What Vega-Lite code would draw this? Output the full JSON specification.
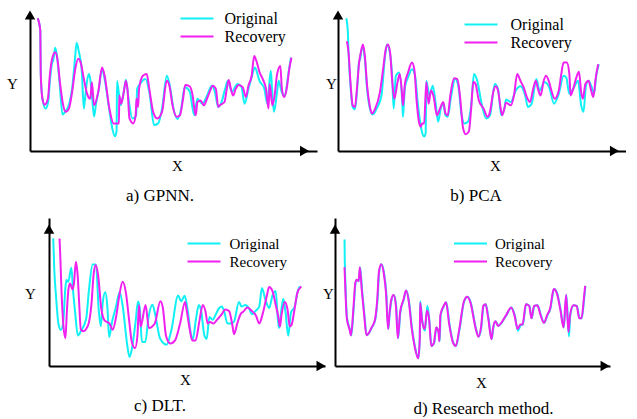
{
"$schema": "https://vega.github.io/schema/vega-lite/v6.json",
"autosize": {"type": "pad"},
"padding": {"left": 6, "top": 9, "right": 0, "bottom": 0},
"background": "white",
"config": {
  "view": {"stroke": null},
  "font": "Liberation Serif",
  "axis": {"labels": false, "ticks": false, "grid": false, "domain": true, "domainColor": "black", "domainWidth": 2, "titleFont": "Liberation Serif", "titleFontSize": 15, "titleFontWeight": "normal", "titleColor": "black", "titleAngle": 0, "titleAlign": "center", "titleBaseline": "alphabetic"},
  "legend": {"orient": "none", "title": null, "symbolType": "M-2,0L2,0", "symbolSize": 272, "symbolStrokeWidth": 2, "labelFont": "Liberation Serif", "labelFontSize": 16, "labelColor": "black", "rowPadding": -1, "padding": 0},
  "title": {"font": "Liberation Serif", "fontSize": 17, "fontWeight": "normal", "color": "black", "orient": "bottom", "anchor": "middle", "offset": 10},
  "line": {"strokeWidth": 2, "interpolate": "monotone"},
  "point": {"filled": true, "color": "black", "opacity": 1, "size": 110}
},
"datasets": {
"a": [
{"s":"Original","x":8,"y":134.7},{"s":"Original","x":10.7,"y":123},{"s":"Original","x":11.3,"y":76.3},{"s":"Original","x":13,"y":53},{"s":"Original","x":16.3,"y":43},{"s":"Original","x":19,"y":50},{"s":"Original","x":21,"y":73},{"s":"Original","x":23,"y":89},{"s":"Original","x":24,"y":91.3},{"s":"Original","x":25,"y":96},{"s":"Original","x":26.3,"y":104.7},{"s":"Original","x":28,"y":98},{"s":"Original","x":31,"y":68},{"s":"Original","x":34,"y":37},{"s":"Original","x":37,"y":40},{"s":"Original","x":41,"y":48},{"s":"Original","x":44,"y":63},{"s":"Original","x":47,"y":93},{"s":"Original","x":48.7,"y":109.7},{"s":"Original","x":51,"y":101},{"s":"Original","x":54,"y":83},{"s":"Original","x":56.3,"y":43},{"s":"Original","x":58,"y":58},{"s":"Original","x":61.3,"y":78},{"s":"Original","x":63,"y":73},{"s":"Original","x":65,"y":53},{"s":"Original","x":67,"y":35},{"s":"Original","x":69,"y":48},{"s":"Original","x":72,"y":63},{"s":"Original","x":75.3,"y":83},{"s":"Original","x":78,"y":73},{"s":"Original","x":83,"y":41},{"s":"Original","x":86,"y":23},{"s":"Original","x":88.7,"y":15},{"s":"Original","x":90.5,"y":20},{"s":"Original","x":91,"y":71},{"s":"Original","x":94.7,"y":46.3},{"s":"Original","x":98,"y":60},{"s":"Original","x":100.3,"y":72.3},{"s":"Original","x":103,"y":53},{"s":"Original","x":107,"y":33},{"s":"Original","x":111,"y":36},{"s":"Original","x":112,"y":63},{"s":"Original","x":115,"y":68},{"s":"Original","x":120.7,"y":73},{"s":"Original","x":125,"y":58},{"s":"Original","x":129.7,"y":26.3},{"s":"Original","x":134,"y":28},{"s":"Original","x":138,"y":43},{"s":"Original","x":143,"y":76.3},{"s":"Original","x":146,"y":67},{"s":"Original","x":150,"y":43},{"s":"Original","x":154.3,"y":32.3},{"s":"Original","x":158,"y":43},{"s":"Original","x":161.7,"y":64.7},{"s":"Original","x":166.7,"y":61},{"s":"Original","x":171.7,"y":36.3},{"s":"Original","x":175,"y":53},{"s":"Original","x":180,"y":48},{"s":"Original","x":185,"y":56},{"s":"Original","x":190,"y":66.3},{"s":"Original","x":193,"y":61},{"s":"Original","x":196.7,"y":44.7},{"s":"Original","x":200,"y":49},{"s":"Original","x":204,"y":63},{"s":"Original","x":206.7,"y":71.3},{"s":"Original","x":211,"y":60},{"s":"Original","x":216.7,"y":68},{"s":"Original","x":221,"y":65},{"s":"Original","x":224.3,"y":48},{"s":"Original","x":228.3,"y":63},{"s":"Original","x":232,"y":76},{"s":"Original","x":235,"y":84.7},{"s":"Original","x":240,"y":71},{"s":"Original","x":245,"y":63},{"s":"Original","x":248,"y":48},{"s":"Original","x":251.7,"y":81.3},{"s":"Original","x":253,"y":63},{"s":"Original","x":255,"y":39.7},{"s":"Original","x":258,"y":58},{"s":"Original","x":260,"y":71.3},{"s":"Original","x":263,"y":60},{"s":"Original","x":266.3,"y":56},{"s":"Original","x":270,"y":78},{"s":"Original","x":272.7,"y":94.7},
{"s":"Recovery","x":8,"y":134.7},{"s":"Recovery","x":10.7,"y":123},{"s":"Recovery","x":11.3,"y":76.3},{"s":"Recovery","x":13,"y":53},{"s":"Recovery","x":15.3,"y":47},{"s":"Recovery","x":18.7,"y":53},{"s":"Recovery","x":20.7,"y":76.3},{"s":"Recovery","x":23,"y":93},{"s":"Recovery","x":26.3,"y":100.3},{"s":"Recovery","x":28.7,"y":93},{"s":"Recovery","x":31.3,"y":69.7},{"s":"Recovery","x":34.7,"y":46.3},{"s":"Recovery","x":37.3,"y":39.7},{"s":"Recovery","x":40.7,"y":43},{"s":"Recovery","x":44,"y":59.7},{"s":"Recovery","x":47.3,"y":83},{"s":"Recovery","x":50.3,"y":93.7},{"s":"Recovery","x":53,"y":89.7},{"s":"Recovery","x":56.3,"y":73},{"s":"Recovery","x":59.7,"y":58},{"s":"Recovery","x":63,"y":53},{"s":"Recovery","x":64.7,"y":69.7},{"s":"Recovery","x":67,"y":46.3},{"s":"Recovery","x":71.3,"y":59.7},{"s":"Recovery","x":75.3,"y":84.7},{"s":"Recovery","x":78,"y":76.3},{"s":"Recovery","x":83,"y":43},{"s":"Recovery","x":87.3,"y":28},{"s":"Recovery","x":93,"y":28},{"s":"Recovery","x":93.3,"y":56.3},{"s":"Recovery","x":95.3,"y":48},{"s":"Recovery","x":98,"y":59.7},{"s":"Recovery","x":100.3,"y":71.3},{"s":"Recovery","x":102,"y":61.3},{"s":"Recovery","x":104,"y":33},{"s":"Recovery","x":108,"y":28},{"s":"Recovery","x":110.5,"y":36.3},{"s":"Recovery","x":111.3,"y":53},{"s":"Recovery","x":113,"y":44.7},{"s":"Recovery","x":114,"y":63},{"s":"Recovery","x":118,"y":76.3},{"s":"Recovery","x":122,"y":78},{"s":"Recovery","x":124.7,"y":63},{"s":"Recovery","x":128.7,"y":39.7},{"s":"Recovery","x":133,"y":33},{"s":"Recovery","x":138,"y":39.7},{"s":"Recovery","x":143,"y":71.3},{"s":"Recovery","x":145.7,"y":66.3},{"s":"Recovery","x":149,"y":46.3},{"s":"Recovery","x":153.3,"y":34.7},{"s":"Recovery","x":156.7,"y":36.3},{"s":"Recovery","x":160,"y":53},{"s":"Recovery","x":162.3,"y":67},{"s":"Recovery","x":166.7,"y":65.7},{"s":"Recovery","x":170,"y":56.3},{"s":"Recovery","x":171.7,"y":43},{"s":"Recovery","x":173.3,"y":36.3},{"s":"Recovery","x":175,"y":49.7},{"s":"Recovery","x":178.3,"y":51.3},{"s":"Recovery","x":181.7,"y":46.3},{"s":"Recovery","x":185,"y":53},{"s":"Recovery","x":188.3,"y":61.3},{"s":"Recovery","x":191,"y":66.3},{"s":"Recovery","x":194.3,"y":63},{"s":"Recovery","x":196.7,"y":44.7},{"s":"Recovery","x":198.3,"y":46.3},{"s":"Recovery","x":203.3,"y":49.7},{"s":"Recovery","x":205.7,"y":63},{"s":"Recovery","x":207.7,"y":72},{"s":"Recovery","x":210,"y":63},{"s":"Recovery","x":212.3,"y":56.3},{"s":"Recovery","x":215,"y":63},{"s":"Recovery","x":218.3,"y":67},{"s":"Recovery","x":222.3,"y":64.7},{"s":"Recovery","x":225.7,"y":54.7},{"s":"Recovery","x":228.3,"y":66.3},{"s":"Recovery","x":231.7,"y":76.3},{"s":"Recovery","x":234.3,"y":96.3},{"s":"Recovery","x":236.7,"y":91.3},{"s":"Recovery","x":240,"y":79.7},{"s":"Recovery","x":243.3,"y":73},{"s":"Recovery","x":246.7,"y":63},{"s":"Recovery","x":249.3,"y":43},{"s":"Recovery","x":250.5,"y":68},{"s":"Recovery","x":253.3,"y":46.3},{"s":"Recovery","x":255.7,"y":56.3},{"s":"Recovery","x":258.3,"y":78},{"s":"Recovery","x":261.7,"y":86.3},{"s":"Recovery","x":263.3,"y":63},{"s":"Recovery","x":265.7,"y":54.7},{"s":"Recovery","x":268.3,"y":63},{"s":"Recovery","x":271,"y":83},{"s":"Recovery","x":273.3,"y":94.7}
],
"b": [
{"s":"Original","x":8.7,"y":134.7},{"s":"Original","x":10.3,"y":119.7},{"s":"Original","x":11,"y":99.7},{"s":"Original","x":13,"y":66.3},{"s":"Original","x":15.3,"y":44.7},{"s":"Original","x":17.7,"y":42.3},{"s":"Original","x":19.7,"y":59.7},{"s":"Original","x":22,"y":91.3},{"s":"Original","x":23,"y":93},{"s":"Original","x":24.3,"y":101.3},{"s":"Original","x":26,"y":106.3},{"s":"Original","x":28,"y":93},{"s":"Original","x":30.3,"y":63},{"s":"Original","x":33.7,"y":41.3},{"s":"Original","x":36.3,"y":37},{"s":"Original","x":40.3,"y":43},{"s":"Original","x":45.3,"y":56.3},{"s":"Original","x":48.7,"y":93},{"s":"Original","x":51,"y":108},{"s":"Original","x":53.7,"y":101.3},{"s":"Original","x":56.3,"y":78},{"s":"Original","x":58,"y":43},{"s":"Original","x":60.3,"y":76.3},{"s":"Original","x":63.7,"y":79.7},{"s":"Original","x":67,"y":48},{"s":"Original","x":67.7,"y":34.7},{"s":"Original","x":69.7,"y":64.7},{"s":"Original","x":73,"y":74.7},{"s":"Original","x":77,"y":83},{"s":"Original","x":80.3,"y":76.3},{"s":"Original","x":83,"y":49.7},{"s":"Original","x":87,"y":21.3},{"s":"Original","x":89.7,"y":14.7},{"s":"Original","x":91.3,"y":18},{"s":"Original","x":92,"y":71.3},{"s":"Original","x":95.3,"y":56.3},{"s":"Original","x":98.7,"y":66.3},{"s":"Original","x":102,"y":46.3},{"s":"Original","x":104.3,"y":29.7},{"s":"Original","x":107,"y":43},{"s":"Original","x":109.7,"y":48},{"s":"Original","x":112,"y":36.3},{"s":"Original","x":114.3,"y":34.7},{"s":"Original","x":117.7,"y":54.7},{"s":"Original","x":122,"y":73},{"s":"Original","x":125.3,"y":66.3},{"s":"Original","x":128.7,"y":36.3},{"s":"Original","x":132,"y":28},{"s":"Original","x":135.3,"y":29.7},{"s":"Original","x":138.7,"y":46.3},{"s":"Original","x":141.7,"y":78},{"s":"Original","x":145,"y":71.3},{"s":"Original","x":150,"y":46.3},{"s":"Original","x":154.3,"y":33},{"s":"Original","x":158.3,"y":36.3},{"s":"Original","x":163.3,"y":68},{"s":"Original","x":166.7,"y":63},{"s":"Original","x":170,"y":36.3},{"s":"Original","x":173.3,"y":43},{"s":"Original","x":175,"y":52.3},{"s":"Original","x":180,"y":49.7},{"s":"Original","x":185,"y":61},{"s":"Original","x":190,"y":65.7},{"s":"Original","x":195,"y":56.3},{"s":"Original","x":197.7,"y":44.7},{"s":"Original","x":201.7,"y":48},{"s":"Original","x":206.7,"y":73},{"s":"Original","x":210,"y":61.3},{"s":"Original","x":215,"y":69.7},{"s":"Original","x":220,"y":64.7},{"s":"Original","x":225,"y":48},{"s":"Original","x":230,"y":58},{"s":"Original","x":235,"y":76.3},{"s":"Original","x":237.7,"y":74.7},{"s":"Original","x":241,"y":58},{"s":"Original","x":245,"y":63},{"s":"Original","x":250,"y":71.3},{"s":"Original","x":253.3,"y":46.3},{"s":"Original","x":255.7,"y":39.7},{"s":"Original","x":258.3,"y":66.3},{"s":"Original","x":261,"y":71.3},{"s":"Original","x":264.3,"y":64.7},{"s":"Original","x":266.7,"y":58},{"s":"Original","x":269,"y":76.3},{"s":"Original","x":271.7,"y":88},
{"s":"Recovery","x":9.3,"y":111.3},{"s":"Recovery","x":11,"y":99.7},{"s":"Recovery","x":13,"y":69.7},{"s":"Recovery","x":15.3,"y":46.3},{"s":"Recovery","x":17.7,"y":44.7},{"s":"Recovery","x":19.7,"y":63},{"s":"Recovery","x":22,"y":89.7},{"s":"Recovery","x":23.7,"y":99.7},{"s":"Recovery","x":26,"y":108},{"s":"Recovery","x":28,"y":96.3},{"s":"Recovery","x":30.3,"y":66.3},{"s":"Recovery","x":33,"y":46.3},{"s":"Recovery","x":35.3,"y":38},{"s":"Recovery","x":38.7,"y":43},{"s":"Recovery","x":43.7,"y":59.7},{"s":"Recovery","x":47,"y":83},{"s":"Recovery","x":49.7,"y":103},{"s":"Recovery","x":52,"y":108},{"s":"Recovery","x":54.3,"y":99.7},{"s":"Recovery","x":56.3,"y":73},{"s":"Recovery","x":58.7,"y":53},{"s":"Recovery","x":62,"y":69.7},{"s":"Recovery","x":64.3,"y":78},{"s":"Recovery","x":66.3,"y":63},{"s":"Recovery","x":67.7,"y":46.3},{"s":"Recovery","x":69.7,"y":68},{"s":"Recovery","x":73,"y":79.7},{"s":"Recovery","x":77,"y":89.7},{"s":"Recovery","x":79.7,"y":81.3},{"s":"Recovery","x":82,"y":49.7},{"s":"Recovery","x":84.3,"y":29.7},{"s":"Recovery","x":86.3,"y":24.7},{"s":"Recovery","x":87.7,"y":28},{"s":"Recovery","x":89.7,"y":28},{"s":"Recovery","x":92,"y":69.7},{"s":"Recovery","x":94.3,"y":48},{"s":"Recovery","x":97,"y":61.3},{"s":"Recovery","x":99.7,"y":54.7},{"s":"Recovery","x":103,"y":36.3},{"s":"Recovery","x":106.3,"y":43},{"s":"Recovery","x":109.7,"y":49.7},{"s":"Recovery","x":112,"y":38},{"s":"Recovery","x":114.3,"y":36.3},{"s":"Recovery","x":117,"y":56.3},{"s":"Recovery","x":121,"y":73.7},{"s":"Recovery","x":124.3,"y":73},{"s":"Recovery","x":127,"y":56.3},{"s":"Recovery","x":130.3,"y":23},{"s":"Recovery","x":133,"y":17},{"s":"Recovery","x":136.3,"y":19.7},{"s":"Recovery","x":138.7,"y":43},{"s":"Recovery","x":141,"y":70.3},{"s":"Recovery","x":143.3,"y":68},{"s":"Recovery","x":146.7,"y":51.3},{"s":"Recovery","x":151.7,"y":43},{"s":"Recovery","x":155.7,"y":34.7},{"s":"Recovery","x":158.3,"y":39.7},{"s":"Recovery","x":161.7,"y":59.7},{"s":"Recovery","x":164.3,"y":65.7},{"s":"Recovery","x":166.7,"y":61.3},{"s":"Recovery","x":169,"y":46.3},{"s":"Recovery","x":171,"y":36.3},{"s":"Recovery","x":173.3,"y":43},{"s":"Recovery","x":175,"y":49},{"s":"Recovery","x":180,"y":46.3},{"s":"Recovery","x":183.3,"y":56.3},{"s":"Recovery","x":186.7,"y":78},{"s":"Recovery","x":190,"y":71.3},{"s":"Recovery","x":193.3,"y":64.7},{"s":"Recovery","x":196.7,"y":54.7},{"s":"Recovery","x":200,"y":49.7},{"s":"Recovery","x":203.3,"y":63},{"s":"Recovery","x":206,"y":71.3},{"s":"Recovery","x":208.3,"y":63},{"s":"Recovery","x":211,"y":56.3},{"s":"Recovery","x":214.3,"y":71.3},{"s":"Recovery","x":216.7,"y":76.3},{"s":"Recovery","x":220,"y":69.7},{"s":"Recovery","x":222.3,"y":61.3},{"s":"Recovery","x":225.7,"y":53},{"s":"Recovery","x":230,"y":61.3},{"s":"Recovery","x":232.3,"y":76.3},{"s":"Recovery","x":235,"y":89.7},{"s":"Recovery","x":238.3,"y":89.7},{"s":"Recovery","x":241,"y":78},{"s":"Recovery","x":242.3,"y":56.3},{"s":"Recovery","x":245,"y":63},{"s":"Recovery","x":248.3,"y":74.7},{"s":"Recovery","x":251,"y":80.3},{"s":"Recovery","x":253.3,"y":59.7},{"s":"Recovery","x":255,"y":53},{"s":"Recovery","x":257.7,"y":68},{"s":"Recovery","x":261,"y":71.3},{"s":"Recovery","x":263.3,"y":63},{"s":"Recovery","x":266,"y":54.7},{"s":"Recovery","x":268.3,"y":73},{"s":"Recovery","x":271,"y":88}
],
"c": [
{"s":"Original","x":4.3,"y":138},{"s":"Original","x":5.3,"y":106},{"s":"Original","x":7.3,"y":73},{"s":"Original","x":9.5,"y":46},{"s":"Original","x":12,"y":39},{"s":"Original","x":14.5,"y":48},{"s":"Original","x":16.5,"y":83},{"s":"Original","x":17.7,"y":93},{"s":"Original","x":19.5,"y":91},{"s":"Original","x":22.7,"y":106.3},{"s":"Original","x":24.3,"y":83},{"s":"Original","x":26.5,"y":58},{"s":"Original","x":29.3,"y":33},{"s":"Original","x":32.5,"y":38},{"s":"Original","x":37.7,"y":51},{"s":"Original","x":40.3,"y":79.7},{"s":"Original","x":44.3,"y":109.7},{"s":"Original","x":47.7,"y":109.7},{"s":"Original","x":50.3,"y":63},{"s":"Original","x":52.5,"y":43},{"s":"Original","x":54.5,"y":68},{"s":"Original","x":57,"y":79.7},{"s":"Original","x":59.3,"y":63},{"s":"Original","x":61,"y":31.3},{"s":"Original","x":64,"y":48},{"s":"Original","x":67.7,"y":63},{"s":"Original","x":71.7,"y":79.7},{"s":"Original","x":75,"y":63},{"s":"Original","x":79.3,"y":23},{"s":"Original","x":81.7,"y":9.7},{"s":"Original","x":84,"y":18},{"s":"Original","x":87.7,"y":46.3},{"s":"Original","x":90.3,"y":69.7},{"s":"Original","x":92,"y":63},{"s":"Original","x":94.3,"y":26.3},{"s":"Original","x":97.7,"y":26},{"s":"Original","x":101,"y":53},{"s":"Original","x":105,"y":66.3},{"s":"Original","x":107.7,"y":56},{"s":"Original","x":112.7,"y":29.7},{"s":"Original","x":119.3,"y":23},{"s":"Original","x":124,"y":38},{"s":"Original","x":131,"y":76.3},{"s":"Original","x":134,"y":70},{"s":"Original","x":137.7,"y":76},{"s":"Original","x":141,"y":58},{"s":"Original","x":144.3,"y":32.7},{"s":"Original","x":146,"y":29.3},{"s":"Original","x":149,"y":50},{"s":"Original","x":152,"y":66},{"s":"Original","x":154.3,"y":60},{"s":"Original","x":157.7,"y":32.7},{"s":"Original","x":160,"y":29.3},{"s":"Original","x":162.7,"y":53},{"s":"Original","x":166,"y":50},{"s":"Original","x":169.3,"y":56},{"s":"Original","x":172.7,"y":62.7},{"s":"Original","x":175.3,"y":64.3},{"s":"Original","x":177.7,"y":59.3},{"s":"Original","x":181,"y":46},{"s":"Original","x":184.3,"y":46},{"s":"Original","x":187.7,"y":48},{"s":"Original","x":192.7,"y":69.3},{"s":"Original","x":195.3,"y":64.3},{"s":"Original","x":199.3,"y":66},{"s":"Original","x":202.7,"y":62.7},{"s":"Original","x":206,"y":56},{"s":"Original","x":209.3,"y":59.3},{"s":"Original","x":213.3,"y":64.3},{"s":"Original","x":216,"y":84.3},{"s":"Original","x":219.3,"y":72.7},{"s":"Original","x":223.3,"y":62.7},{"s":"Original","x":226.7,"y":76},{"s":"Original","x":230,"y":81},{"s":"Original","x":232,"y":53},{"s":"Original","x":233.3,"y":41},{"s":"Original","x":236,"y":63},{"s":"Original","x":237.7,"y":72.7},{"s":"Original","x":240,"y":58},{"s":"Original","x":242.7,"y":32.7},{"s":"Original","x":245.5,"y":58},{"s":"Original","x":249.3,"y":64.3},{"s":"Original","x":252,"y":79.3},{"s":"Original","x":254.3,"y":86},
{"s":"Recovery","x":10.7,"y":137.7},{"s":"Recovery","x":11.3,"y":122.7},{"s":"Recovery","x":13,"y":72.7},{"s":"Recovery","x":14.7,"y":42.7},{"s":"Recovery","x":16.7,"y":30},{"s":"Recovery","x":18,"y":56},{"s":"Recovery","x":19.7,"y":82.7},{"s":"Recovery","x":21.3,"y":89.3},{"s":"Recovery","x":24,"y":82.7},{"s":"Recovery","x":25.3,"y":89.3},{"s":"Recovery","x":27.3,"y":112.7},{"s":"Recovery","x":29,"y":99.3},{"s":"Recovery","x":30.7,"y":66},{"s":"Recovery","x":32.3,"y":39.3},{"s":"Recovery","x":34.7,"y":37.7},{"s":"Recovery","x":39.7,"y":44.3},{"s":"Recovery","x":43,"y":66},{"s":"Recovery","x":45.3,"y":99.3},{"s":"Recovery","x":47.3,"y":109.3},{"s":"Recovery","x":49.7,"y":99.3},{"s":"Recovery","x":53,"y":62.7},{"s":"Recovery","x":56.3,"y":49.3},{"s":"Recovery","x":61.3,"y":46},{"s":"Recovery","x":64.7,"y":39.3},{"s":"Recovery","x":68,"y":52.7},{"s":"Recovery","x":71.3,"y":76},{"s":"Recovery","x":74.7,"y":91},{"s":"Recovery","x":78,"y":79.3},{"s":"Recovery","x":81.3,"y":49.3},{"s":"Recovery","x":84,"y":26},{"s":"Recovery","x":87.3,"y":19.3},{"s":"Recovery","x":89.7,"y":32.7},{"s":"Recovery","x":91.3,"y":66},{"s":"Recovery","x":93,"y":42.7},{"s":"Recovery","x":98,"y":66},{"s":"Recovery","x":101.3,"y":41},{"s":"Recovery","x":107.3,"y":46},{"s":"Recovery","x":113,"y":70},{"s":"Recovery","x":115.5,"y":63},{"s":"Recovery","x":118.7,"y":32.7},{"s":"Recovery","x":123,"y":24.3},{"s":"Recovery","x":128,"y":28},{"s":"Recovery","x":133,"y":46},{"s":"Recovery","x":138,"y":69.3},{"s":"Recovery","x":139.3,"y":62.7},{"s":"Recovery","x":142.7,"y":40},{"s":"Recovery","x":145.3,"y":27.7},{"s":"Recovery","x":148.7,"y":27.7},{"s":"Recovery","x":152.7,"y":49.3},{"s":"Recovery","x":156,"y":66},{"s":"Recovery","x":158.7,"y":59.3},{"s":"Recovery","x":161,"y":46},{"s":"Recovery","x":163.3,"y":47.7},{"s":"Recovery","x":166.7,"y":46},{"s":"Recovery","x":170,"y":49.3},{"s":"Recovery","x":175.3,"y":56},{"s":"Recovery","x":178.7,"y":61},{"s":"Recovery","x":182.7,"y":59.3},{"s":"Recovery","x":186,"y":44.3},{"s":"Recovery","x":187.7,"y":34.3},{"s":"Recovery","x":191,"y":46},{"s":"Recovery","x":194.3,"y":56},{"s":"Recovery","x":197.7,"y":59.3},{"s":"Recovery","x":201,"y":63.3},{"s":"Recovery","x":206,"y":59.3},{"s":"Recovery","x":210,"y":54.3},{"s":"Recovery","x":213.3,"y":46},{"s":"Recovery","x":216.7,"y":56},{"s":"Recovery","x":221,"y":76},{"s":"Recovery","x":223.3,"y":85.3},{"s":"Recovery","x":226.7,"y":81},{"s":"Recovery","x":230,"y":66},{"s":"Recovery","x":232.7,"y":52.7},{"s":"Recovery","x":234.3,"y":42.7},{"s":"Recovery","x":236,"y":56},{"s":"Recovery","x":239.3,"y":69.3},{"s":"Recovery","x":242,"y":61},{"s":"Recovery","x":244.3,"y":42.7},{"s":"Recovery","x":246,"y":44.3},{"s":"Recovery","x":249.3,"y":62.7},{"s":"Recovery","x":252,"y":79.3},{"s":"Recovery","x":256,"y":86}
],
"d": [
{"s":"Original","x":9.7,"y":136.7},{"s":"Original","x":9.9,"y":118},{"s":"Original","x":10.3,"y":100},{"s":"Original","x":11,"y":78},{"s":"Original","x":12.3,"y":51.7},{"s":"Original","x":15,"y":40},{"s":"Original","x":16.6,"y":33},{"s":"Original","x":19,"y":61.7},{"s":"Original","x":21,"y":90},{"s":"Original","x":22.3,"y":93.3},{"s":"Original","x":24.3,"y":91.7},{"s":"Original","x":25.6,"y":106.7},{"s":"Original","x":27.6,"y":81.7},{"s":"Original","x":30,"y":55},{"s":"Original","x":32.3,"y":33.3},{"s":"Original","x":34.3,"y":35},{"s":"Original","x":37.6,"y":41.7},{"s":"Original","x":41,"y":50},{"s":"Original","x":43.3,"y":71.7},{"s":"Original","x":45,"y":101.7},{"s":"Original","x":47.3,"y":110},{"s":"Original","x":50,"y":100},{"s":"Original","x":52.3,"y":78.3},{"s":"Original","x":54.3,"y":40},{"s":"Original","x":55.6,"y":55},{"s":"Original","x":57.6,"y":71.7},{"s":"Original","x":60,"y":76.7},{"s":"Original","x":62.3,"y":65},{"s":"Original","x":64.3,"y":30},{"s":"Original","x":66.6,"y":58.3},{"s":"Original","x":70,"y":71.7},{"s":"Original","x":72.6,"y":81.7},{"s":"Original","x":75.6,"y":68.3},{"s":"Original","x":78.3,"y":41.7},{"s":"Original","x":81.6,"y":20},{"s":"Original","x":85,"y":8.3},{"s":"Original","x":86.3,"y":30},{"s":"Original","x":86.8,"y":70},{"s":"Original","x":88.8,"y":50},{"s":"Original","x":91.6,"y":38},{"s":"Original","x":94,"y":65},{"s":"Original","x":96,"y":50},{"s":"Original","x":98.3,"y":21.7},{"s":"Original","x":101,"y":25},{"s":"Original","x":103.3,"y":41.7},{"s":"Original","x":105.6,"y":36.7},{"s":"Original","x":106.6,"y":26.7},{"s":"Original","x":107.6,"y":55},{"s":"Original","x":111,"y":65},{"s":"Original","x":113.3,"y":69},{"s":"Original","x":116.6,"y":45},{"s":"Original","x":120,"y":26.7},{"s":"Original","x":123.3,"y":21.7},{"s":"Original","x":126.6,"y":38.3},{"s":"Original","x":131.6,"y":70},{"s":"Original","x":135,"y":75},{"s":"Original","x":138.3,"y":68.3},{"s":"Original","x":143.3,"y":41.7},{"s":"Original","x":146.3,"y":31.7},{"s":"Original","x":149,"y":42},{"s":"Original","x":151.3,"y":65},{"s":"Original","x":153.6,"y":66.7},{"s":"Original","x":156.3,"y":51.7},{"s":"Original","x":159.6,"y":29},{"s":"Original","x":161.3,"y":41.7},{"s":"Original","x":163.6,"y":48.3},{"s":"Original","x":166.3,"y":43.3},{"s":"Original","x":169.6,"y":46.7},{"s":"Original","x":174.6,"y":55},{"s":"Original","x":179.6,"y":63.3},{"s":"Original","x":183,"y":55},{"s":"Original","x":186.3,"y":38},{"s":"Original","x":189,"y":44},{"s":"Original","x":191.3,"y":45},{"s":"Original","x":194.6,"y":66.7},{"s":"Original","x":198,"y":65},{"s":"Original","x":200.3,"y":51.7},{"s":"Original","x":203,"y":65},{"s":"Original","x":206.3,"y":65.7},{"s":"Original","x":209.6,"y":55},{"s":"Original","x":213,"y":46.7},{"s":"Original","x":216.3,"y":55},{"s":"Original","x":219.6,"y":63.3},{"s":"Original","x":221.3,"y":75},{"s":"Original","x":223,"y":83.3},{"s":"Original","x":226.3,"y":78.3},{"s":"Original","x":229.6,"y":61.7},{"s":"Original","x":233,"y":41.7},{"s":"Original","x":235.6,"y":76.7},{"s":"Original","x":238.2,"y":32},{"s":"Original","x":239.6,"y":55},{"s":"Original","x":243,"y":65.7},{"s":"Original","x":246.3,"y":65},{"s":"Original","x":249,"y":51.7},{"s":"Original","x":251.3,"y":51.7},{"s":"Original","x":253.6,"y":71.7},{"s":"Original","x":255,"y":86.7},
{"s":"Recovery","x":9.7,"y":106.7},{"s":"Recovery","x":10.7,"y":78.3},{"s":"Recovery","x":12,"y":51.7},{"s":"Recovery","x":14.7,"y":40},{"s":"Recovery","x":16.3,"y":33.3},{"s":"Recovery","x":18.7,"y":61.7},{"s":"Recovery","x":20.7,"y":90},{"s":"Recovery","x":22,"y":93.3},{"s":"Recovery","x":24,"y":91.7},{"s":"Recovery","x":25.3,"y":106.7},{"s":"Recovery","x":27.3,"y":81.7},{"s":"Recovery","x":29.7,"y":55},{"s":"Recovery","x":32,"y":33.3},{"s":"Recovery","x":34,"y":35},{"s":"Recovery","x":37.3,"y":41.7},{"s":"Recovery","x":40.7,"y":50},{"s":"Recovery","x":43,"y":71.7},{"s":"Recovery","x":44.7,"y":101.7},{"s":"Recovery","x":47,"y":110},{"s":"Recovery","x":49.7,"y":100},{"s":"Recovery","x":52,"y":78.3},{"s":"Recovery","x":54,"y":40},{"s":"Recovery","x":55.3,"y":55},{"s":"Recovery","x":57.3,"y":71.7},{"s":"Recovery","x":59.7,"y":76.7},{"s":"Recovery","x":62,"y":65},{"s":"Recovery","x":64,"y":30},{"s":"Recovery","x":66.3,"y":58.3},{"s":"Recovery","x":69.7,"y":71.7},{"s":"Recovery","x":72.3,"y":81.7},{"s":"Recovery","x":75.3,"y":68.3},{"s":"Recovery","x":78,"y":41.7},{"s":"Recovery","x":81.3,"y":20},{"s":"Recovery","x":84.7,"y":8.3},{"s":"Recovery","x":86.3,"y":28.3},{"s":"Recovery","x":86.7,"y":68.3},{"s":"Recovery","x":88.7,"y":48.3},{"s":"Recovery","x":91.3,"y":40},{"s":"Recovery","x":93.7,"y":60},{"s":"Recovery","x":95.7,"y":51.7},{"s":"Recovery","x":98,"y":21.7},{"s":"Recovery","x":100.7,"y":25},{"s":"Recovery","x":103,"y":41.7},{"s":"Recovery","x":105.3,"y":36.7},{"s":"Recovery","x":106.3,"y":26.7},{"s":"Recovery","x":107.3,"y":55},{"s":"Recovery","x":110.7,"y":65},{"s":"Recovery","x":113,"y":69},{"s":"Recovery","x":116.3,"y":45},{"s":"Recovery","x":119.7,"y":26.7},{"s":"Recovery","x":123,"y":21.7},{"s":"Recovery","x":126.3,"y":38.3},{"s":"Recovery","x":131.3,"y":70},{"s":"Recovery","x":134.7,"y":75},{"s":"Recovery","x":138,"y":68.3},{"s":"Recovery","x":143,"y":41.7},{"s":"Recovery","x":146,"y":31.7},{"s":"Recovery","x":148.7,"y":42},{"s":"Recovery","x":151,"y":65},{"s":"Recovery","x":153.3,"y":66.7},{"s":"Recovery","x":156,"y":51.7},{"s":"Recovery","x":159.3,"y":29},{"s":"Recovery","x":161,"y":41.7},{"s":"Recovery","x":163.3,"y":48.3},{"s":"Recovery","x":166,"y":43.3},{"s":"Recovery","x":169.3,"y":46.7},{"s":"Recovery","x":174.3,"y":55},{"s":"Recovery","x":179.3,"y":63.3},{"s":"Recovery","x":182.7,"y":55},{"s":"Recovery","x":186,"y":40},{"s":"Recovery","x":188.7,"y":45},{"s":"Recovery","x":191,"y":45},{"s":"Recovery","x":194.3,"y":66.7},{"s":"Recovery","x":197.7,"y":65},{"s":"Recovery","x":200,"y":51.7},{"s":"Recovery","x":202.7,"y":65},{"s":"Recovery","x":206,"y":65.7},{"s":"Recovery","x":209.3,"y":55},{"s":"Recovery","x":212.7,"y":46.7},{"s":"Recovery","x":216,"y":55},{"s":"Recovery","x":219.3,"y":63.3},{"s":"Recovery","x":221,"y":75},{"s":"Recovery","x":222.7,"y":83.3},{"s":"Recovery","x":226,"y":78.3},{"s":"Recovery","x":229.3,"y":61.7},{"s":"Recovery","x":232.7,"y":41.7},{"s":"Recovery","x":235.3,"y":76.7},{"s":"Recovery","x":237.7,"y":36.7},{"s":"Recovery","x":239.3,"y":55},{"s":"Recovery","x":242.7,"y":65.7},{"s":"Recovery","x":246,"y":65},{"s":"Recovery","x":248.7,"y":51.7},{"s":"Recovery","x":251,"y":51.7},{"s":"Recovery","x":253.3,"y":71.7},{"s":"Recovery","x":254.7,"y":86.7}
]
},
"columns": 2,
"spacing": {"row": 67, "column": 10},
"bounds": "flush",
"resolve": {"scale": {"x": "independent", "y": "independent"}, "axis": {"x": "independent", "y": "independent"}, "legend": {"color": "independent"}},
"concat": [
{
"width": 295, "height": 138,
"title": {"text": "a) GPNN.", "dx": -17.5, "offset": 14},
"layer": [
{"data": {"name": "a"}, "mark": {"type": "line"}, "encoding": {
  "x": {"field": "x", "type": "quantitative", "scale": {"domain": [0, 287], "range": [0, 287]}, "axis": {"title": "X", "titleX": 147, "titleY": 19.5}},
  "y": {"field": "y", "type": "quantitative", "scale": {"domain": [0, 138]}, "axis": {"title": "Y", "titleX": -18, "titleY": 75.5}},
  "color": {"field": "s", "type": "nominal", "scale": {"domain": ["Original", "Recovery"], "range": ["#10F0F5", "#F020F0"]}, "legend": {"legendX": 157.5, "legendY": -4, "labelOffset": 18}}}},
{"data": {"values": [{"x": 0, "y": 138}]}, "mark": {"type": "point", "shape": "triangle-up"}, "encoding": {"x": {"field": "x", "type": "quantitative", "title": "X"}, "y": {"field": "y", "type": "quantitative", "title": "Y"}}},
{"data": {"values": [{"x": 287, "y": 0}]}, "mark": {"type": "point", "shape": "triangle-right"}, "encoding": {"x": {"field": "x", "type": "quantitative", "title": "X"}, "y": {"field": "y", "type": "quantitative", "title": "Y"}}}
]
},
{
"width": 291, "height": 138,
"title": {"text": "b) PCA", "dx": -4.5, "offset": 14},
"layer": [
{"data": {"name": "b"}, "mark": {"type": "line"}, "encoding": {
  "x": {"field": "x", "type": "quantitative", "scale": {"domain": [0, 288], "range": [3, 291]}, "axis": {"title": "X", "titleX": 160, "titleY": 19.5}},
  "y": {"field": "y", "type": "quantitative", "scale": {"domain": [0, 138]}, "axis": {"title": "Y", "offset": -3, "titleX": -7, "titleY": 75.5}},
  "color": {"field": "s", "type": "nominal", "scale": {"domain": ["Original", "Recovery"], "range": ["#10F0F5", "#F020F0"]}, "legend": {"legendX": 136.5, "legendY": 2, "labelOffset": 20}}}},
{"data": {"values": [{"x": 0, "y": 138}]}, "mark": {"type": "point", "shape": "triangle-up"}, "encoding": {"x": {"field": "x", "type": "quantitative", "title": "X"}, "y": {"field": "y", "type": "quantitative", "title": "Y"}}},
{"data": {"values": [{"x": 288, "y": 0}]}, "mark": {"type": "point", "shape": "triangle-right"}, "encoding": {"x": {"field": "x", "type": "quantitative", "title": "X"}, "y": {"field": "y", "type": "quantitative", "title": "Y"}}}
]
},
{
"width": 295, "height": 148,
"title": {"text": "c) DLT.", "dx": -17.5},
"layer": [
{"data": {"name": "c"}, "mark": {"type": "line"}, "encoding": {
  "x": {"field": "x", "type": "quantitative", "scale": {"domain": [0, 276], "range": [19, 295]}, "axis": {"title": "X", "titleX": 155, "titleY": 18.5}},
  "y": {"field": "y", "type": "quantitative", "scale": {"domain": [0, 148]}, "axis": {"title": "Y", "offset": -19, "titleX": -19, "titleY": 80.5}},
  "color": {"field": "s", "type": "nominal", "scale": {"domain": ["Original", "Recovery"], "range": ["#10F0F5", "#F020F0"]}, "legend": {"legendX": 164.5, "legendY": 16, "labelOffset": 16, "labelFontSize": 15}}}},
{"data": {"values": [{"x": 0, "y": 148}]}, "mark": {"type": "point", "shape": "triangle-up"}, "encoding": {"x": {"field": "x", "type": "quantitative", "title": "X"}, "y": {"field": "y", "type": "quantitative", "title": "Y"}}},
{"data": {"values": [{"x": 276, "y": 0}]}, "mark": {"type": "point", "shape": "triangle-right"}, "encoding": {"x": {"field": "x", "type": "quantitative", "title": "X"}, "y": {"field": "y", "type": "quantitative", "title": "Y"}}}
]
},
{
"width": 291, "height": 148,
"title": {"text": "d) Research method.", "dx": 3},
"layer": [
{"data": {"name": "d"}, "mark": {"type": "line"}, "encoding": {
  "x": {"field": "x", "type": "quantitative", "scale": {"domain": [0, 275], "range": [0, 275]}, "axis": {"title": "X", "titleX": 146, "titleY": 21.5}},
  "y": {"field": "y", "type": "quantitative", "scale": {"domain": [0, 148]}, "axis": {"title": "Y", "titleX": -7, "titleY": 80.5}},
  "color": {"field": "s", "type": "nominal", "scale": {"domain": ["Original", "Recovery"], "range": ["#10F0F5", "#F020F0"]}, "legend": {"legendX": 126, "legendY": 16, "labelOffset": 15, "labelFontSize": 15}}}},
{"data": {"values": [{"x": 0, "y": 148}]}, "mark": {"type": "point", "shape": "triangle-up"}, "encoding": {"x": {"field": "x", "type": "quantitative", "title": "X"}, "y": {"field": "y", "type": "quantitative", "title": "Y"}}},
{"data": {"values": [{"x": 275, "y": 0}]}, "mark": {"type": "point", "shape": "triangle-right"}, "encoding": {"x": {"field": "x", "type": "quantitative", "title": "X"}, "y": {"field": "y", "type": "quantitative", "title": "Y"}}}
]
}
]
}
